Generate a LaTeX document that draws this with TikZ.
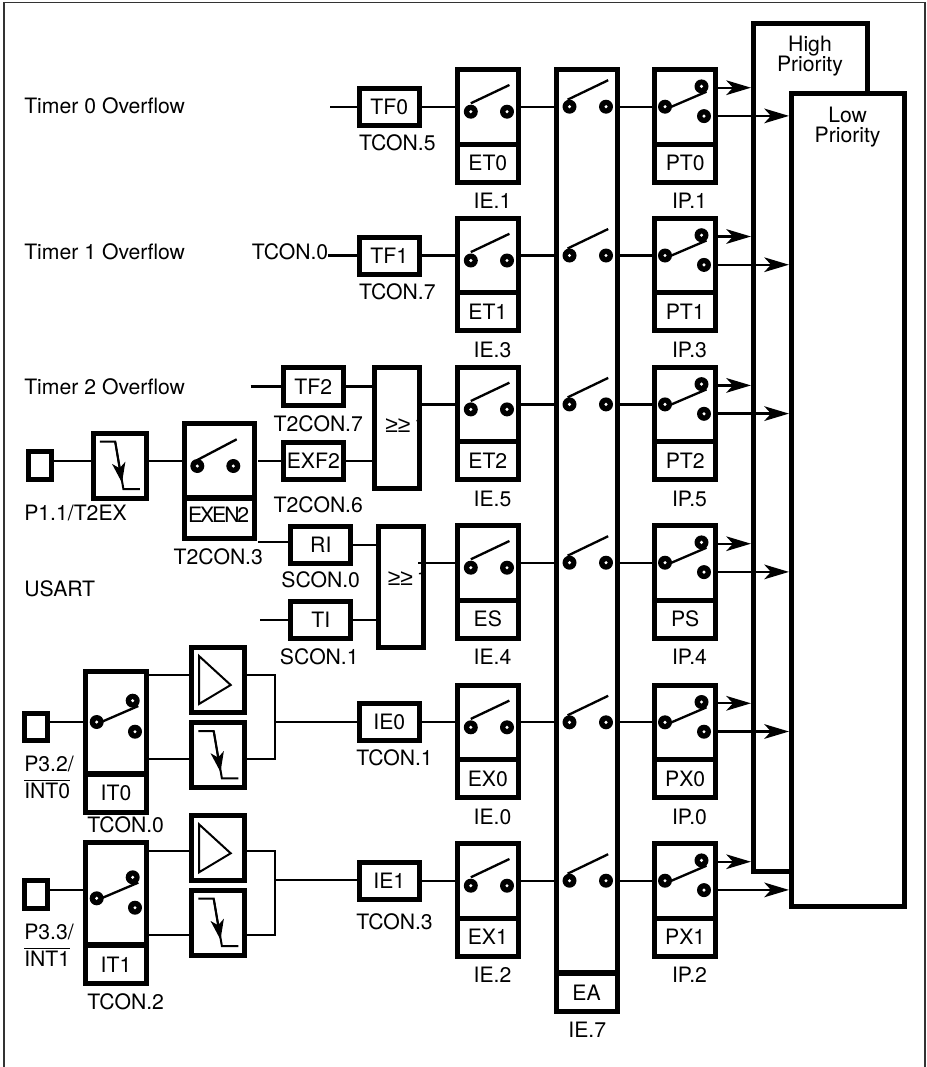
\documentclass[tikz,border=0pt]{standalone}
\usepackage{fontspec}
\setmainfont{TeX Gyre Heros}
\newfontfamily\orfont{Liberation Sans}
\usepackage{tikz}
\usetikzlibrary{arrows.meta,positioning,calc}

\newcommand{\barred}[1]{\leavevmode\vbox{\hrule height 1.2pt\kern 1.2pt\hbox{#1}}}
\newcommand{\orsign}{{\orfont\fontsize{17.2}{17}\selectfont ≥≥}\kern 2.9pt 1}

\tikzset{
  thickbox/.style 2 args={draw=black, line width=3.75pt, inner sep=0pt,
    minimum width=#1*0.75pt, minimum height=#2*0.75pt},
  wire/.style={line width=1.75pt, black},
  lab/.style={inner sep=0pt},
  outarrow/.style={wire, -{Stealth[length=18.5pt,width=11pt,inset=5pt]}},
  contact/.pic={\fill[black] (0,0) circle[radius=7]; \fill[white] (0,0) circle[radius=1.7];},
  fallsym/.pic={
    \draw[line width=1.5pt] (-20,-24) -- (-4.6,-24) -- (3.6,23.3) -- (20,23.3);
    \draw[line width=1.5pt, -{Stealth[length=15pt,width=10pt,inset=4pt]}] (-4.6,-24) -- (2.2,17);
  },
  triasym/.pic={\draw[line width=1.5pt, miter limit=10] (-19.3,-24) -- (12.4,5) -- (-19.3,24) -- cycle;},
}

\begin{document}
\begin{tikzpicture}[x=0.75pt, y=-0.75pt,
    font=\fontsize{15.9}{15.5}\selectfont]
\useasboundingbox (0,0) rectangle (926,1067);
\draw[line width=1.2pt, black!80] (4,1067) -- (4,2.5) -- (925,2.5) -- (925,1067);

% ------------------------------------------------------- priority blocks
\node[thickbox={113.7}{848.3}, fill=white] (high) at (810.3,447.3) {};
\node[thickbox={113.5}{813.6}, fill=white] (low) at (848.2,500) {};
\node[lab, align=center] (hightxt) at (810,56) {High\\Priority};
\node[lab, align=center] (lowtxt) at (847.6,127) {Low\\Priority};

% ------------------------------------------------------- global enable bar
\node[thickbox={61}{903.5}] (eabar) at (586.5,521.2) {};
\node[thickbox={61}{37.5}] (eabox) at (586.5,992.7) {EA};
\node[lab] (ealab) at (587.3,1030) {IE.7};

% ------------------------------------------------------- the six interrupt rows
\foreach \rw/\yy/\enlab/\prlab/\ielab/\iplab in {
    a/106.7/ET0/PT0/IE.1/IP.1,
    b/255.5/ET1/PT1/IE.3/IP.3,
    c/404.4/ET2/PT2/IE.5/IP.5,
    d/562.7/ES/PS/IE.4/IP.4,
    e/722.3/EX0/PX0/IE.0/IP.0,
    f/880.7/EX1/PX1/IE.2/IP.2} {
  % enable switch
  \node[thickbox={60.6}{74.6}] (sw\rw) at (487.8,\yy) {};
  \node[thickbox={60.6}{38}] (en\rw) at (487.8,\yy+56.3) {\enlab};
  \node[lab] (ie\rw) at (492.5,\yy+94.5) {\ielab};
  \pic at (470.8,\yy+5) {contact};
  \pic at (507,\yy+5) {contact};
  \draw[wire] (470.8,\yy-3.4) -- (509.4,\yy-21.7);
  % switch inside the bar
  \pic at (569.5,\yy) {contact};
  \pic at (606,\yy) {contact};
  \draw[wire] (567.6,\yy-7) -- (608.2,\yy-26.5);
  % priority switch
  \node[thickbox={60.6}{74.6}] (ps\rw) at (685.2,\yy) {};
  \node[thickbox={60.6}{38}] (pr\rw) at (685.2,\yy+56.3) {\prlab};
  \node[lab] (ip\rw) at (689.5,\yy+94.5) {\iplab};
  \pic at (665,\yy) {contact};
  \pic at (701.5,\yy-20.3) {contact};
  \pic at (704,\yy+9.4) {contact};
  \draw[wire] (668,\yy+1.5) -- (706.5,\yy-15);
  % wires and outputs
  \draw[wire] (sw\rw.east) -- (eabar.west |- sw\rw.east);
  \draw[wire] (eabar.east |- ps\rw.west) -- (ps\rw.west);
  \coordinate (hi\rw) at (700,\yy-19);
  \coordinate (lo\rw) at (700,\yy+9.2);
  \draw[outarrow] (ps\rw.east |- hi\rw) -- (high.west |- hi\rw);
  \draw[outarrow] (ps\rw.east |- lo\rw) -- (low.west |- lo\rw);
}

% ------------------------------------------------------- timer 0 and timer 1
\node[lab, anchor=west] (tmz) at (24,105.5) {Timer 0 Overflow};
\node[thickbox={60}{37}] (tfz) at (389.2,106.7) {TF0};
\node[lab] (tfzlab) at (397.3,142.3) {TCON.5};
\coordinate (tfzin) at (330.4,106.7);
\draw[wire] (tfzin) -- (tfz.west);
\draw[wire] (tfz.east) -- (swa.west);

\node[lab, anchor=west] (tmo) at (24,251.5) {Timer 1 Overflow};
\node[lab] (tfotcon) at (290,252) {TCON.0};
\node[thickbox={60}{37}] (tfo) at (389.2,255.5) {TF1};
\node[lab] (tfolab) at (397.3,292) {TCON.7};
\coordinate (tfoin) at (328,255.5);
\draw[wire] (tfoin) -- (tfo.west);
\draw[wire] (tfo.east) -- (swb.west);

% ------------------------------------------------------- timer 2
\node[lab, anchor=west] (tmt) at (24,386.7) {Timer 2 Overflow};
\node[thickbox={60}{37.4}] (tft) at (313.3,386.5) {TF2};
\node[lab] (tftlab) at (318.3,424) {T2CON.7};
\node[thickbox={60}{37.4}] (exf) at (313.3,461) {EXF2};
\node[lab] (exflab) at (318.3,504.3) {T2CON.6};
\node[lab, anchor=west] (ortxta) at (385,425) {\orsign};
\node[thickbox={45}{120.7}] (ora) at (397,428.2) {};
\coordinate (tftin) at (250.7,386.5);
\draw[wire] (tftin) -- (tft.west);
\draw[wire] (tft.east) -- (ora.west |- tft.east);
\draw[wire] (exf.east) -- (ora.west |- exf.east);
\draw[wire] (ora.east |- swc.west) -- (swc.west);

\node[thickbox={23.3}{28}] (pinb) at (40.2,465.8) {};
\node[lab, anchor=west] (pinblab) at (24,512.7) {P1.1/T2EX};
\node[thickbox={52.7}{65}] (fallb) at (119.8,465.7) {};
\pic at (119.8,465.7) {fallsym};
\node[thickbox={69.7}{74.5}] (exsw) at (219.3,460.7) {};
\node[thickbox={69.7}{40}] (exen) at (219.3,518) {};
\node[lab] (exentxt) at (218.7,514.3) {\addfontfeature{LetterSpace=-10}EXEN2};
\node[lab] (exenlab) at (218.3,556.7) {T2CON.3};
\pic at (197.3,466) {contact};
\pic at (233.3,466) {contact};
\draw[wire] (197.3,460) -- (236.7,439.3);
\coordinate (exfin) at (258.3,461);
\draw[wire] (pinb.east |- exsw.west) -- (fallb.west |- exsw.west);
\draw[wire] (fallb.east |- exsw.west) -- (exsw.west);
\draw[wire] (exfin) -- (exf.west);

% ------------------------------------------------------- usart
\node[lab, anchor=west] (usart) at (24,588.3) {USART};
\node[thickbox={60}{37}] (ri) at (320.8,544.9) {RI};
\node[lab] (rilab) at (320.7,580) {SCON.0};
\node[thickbox={60}{37}] (ti) at (320.8,619.7) {TI};
\node[lab] (tilab) at (319.3,656.7) {SCON.1};
\node[lab, anchor=west] (ortxtb) at (387.5,578.3) {\orsign};
\node[thickbox={45}{121}] (orb) at (400.7,587) {};
\coordinate (riin) at (258.3,542.3);
\coordinate (tiin) at (260,619.7);
\coordinate (orbout) at (418,562.7);
\draw[wire] (riin) -- (ri.west |- riin);
\draw[wire] (tiin) -- (ti.west);
\draw[wire] (ri.east) -- (orb.west |- ri.east);
\draw[wire] (ti.east) -- (orb.west |- ti.east);
\draw[wire] (orbout) -- (swd.west);

% ------------------------------------------------------- external interrupts
\foreach \rw/\pinx/\pinw/\swy/\trgy/\fally/\upy/\lowy/\midy/\ctop/\cmid/\cbot/\itlab/\conlab/\cony/\txty/\txta/\txtb/\iey/\iebit/\ielabel/\ielaby in {
    e/727/722/722.2/680/755/675/759.3/722/700.7/722/731.7/IT0/TCON.0/825/764.3/3.2/INT0/722.3/IE0/TCON.1/757.3,
    f/894.7/889.7/893.4/848.3/922.7/851/935/880/877.3/898.3/907.7/IT1/TCON.2/1001.7/932.3/3.3/INT1/880.7/IE1/TCON.3/921.7} {
  \node[thickbox={22.7}{27.6}] (pin\rw) at (36.2,\pinx) {};
  \node[lab, anchor=north west, align=left] (pinlab\rw) at (24,\txty-9) {P\txta/\\[5pt]\barred{\txtb}};
  \node[thickbox={60.4}{102}] (it\rw) at (116,\swy) {};
  \node[thickbox={60.4}{38}] (itb\rw) at (116,\swy+71) {\itlab};
  \node[lab] (itl\rw) at (125.7,\cony) {\conlab};
  \pic at (96.7,\cmid) {contact};
  \pic at (132.7,\ctop) {contact};
  \pic at (135,\cbot) {contact};
  \draw[wire] (99,\cmid+1) -- (138.3,\ctop+5.3);
  \node[thickbox={53}{65}] (trg\rw) at (218.3,\trgy) {};
  \pic at (218.3,\trgy) {triasym};
  \node[thickbox={53}{65}] (fall\rw) at (218.3,\fally) {};
  \pic at (218.3,\fally) {fallsym};
  \node[thickbox={60.4}{37}] (ie\rw x) at (389.3,\iey) {\iebit};
  \node[lab] (iel\rw) at (394.5,\ielaby) {\ielabel};
  \coordinate (join\rw) at (275.3,\midy);
  \coordinate (pw\rw) at (60,\pinw);
  \draw[wire] (pin\rw.east |- pw\rw) -- (it\rw.west |- pw\rw);
  \coordinate (up\rw) at (160,\upy);
  \coordinate (dn\rw) at (160,\lowy);
  \draw[wire] (it\rw.east |- up\rw) -- (trg\rw.west |- up\rw);
  \draw[wire] (it\rw.east |- dn\rw) -- (fall\rw.west |- dn\rw);
  \draw[wire] (trg\rw.east |- up\rw) -| (join\rw) |- (fall\rw.east |- dn\rw);
  \draw[wire] (join\rw) -- (ie\rw x.west |- join\rw);
  \draw[wire] (ie\rw x.east) -- (sw\rw.west);
}

\end{tikzpicture}
\end{document}
